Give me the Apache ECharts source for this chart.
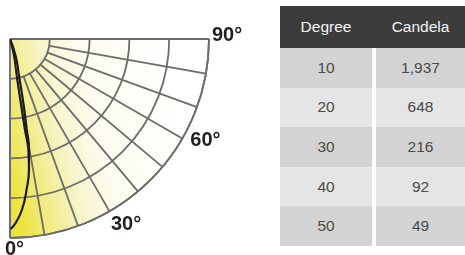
<!DOCTYPE html>
<html>
<head>
<meta charset="utf-8">
<script src="https://cdn.jsdelivr.net/npm/echarts@6/dist/echarts.min.js"></script>
<style>
  html, body { margin: 0; padding: 0; background: #fff; }
  #chart { position: absolute; left: 0; top: 0; width: 275px; height: 255px; }
  #table { position: absolute; left: 280px; top: 6px; width: 185px;
    font-family: "Liberation Sans", Arial, sans-serif; font-size: 15.5px; }
  .head { display: flex; height: 42px; background: #3c3c3c; color: #f4f4f4; }
  .row { display: flex; height: 39.6px; color: #4a4a4a; }
  .c1, .c2 { text-align: center; display: flex; align-items: center; justify-content: center; }
  .c1 { width: 92px; }
  .c2 { width: 89px; margin-left: 4px; }
  .dark .c1, .dark .c2 { background: #d3d3d3; }
  .light .c1, .light .c2 { background: #e5e5e5; }
</style>
</head>
<body>
<div id="chart"></div>
<div id="table"></div>
<script>
// table data
const degrees = [10, 20, 30, 40, 50];
const candela = [1937, 648, 216, 92, 49];

// polar grid
const radiusMax = 3500;
const ringStep = 700;
const angleTicks = [0, 30, 60, 90];

// intensity curve: [candela, degree]
const curveOuter = [
  [0, 20], [315, 18.5], [670, 13.7], [1145, 11.8], [1609, 10.5], [1963, 9.8],
  [2311, 8.3], [2654, 6.35], [2997, 4.1], [3233, 1.8], [3342, 0.2]
];
const curveInner = [
  [0, 14], [308, 13.2], [661, 10.3], [1136, 9.5], [1604, 9.3], [2000, 9.3], [2311, 8.3]
];

const gridColor = "#6c6c6c";
const gridLine = { color: gridColor, width: 1.8 };

const tbl = document.getElementById("table");
let html = '<div class="head"><div class="c1">Degree</div><div class="c2">Candela</div></div>';
degrees.forEach((d, i) => {
  html += '<div class="row ' + (i % 2 ? "light" : "dark") + '"><div class="c1">' + d +
    '</div><div class="c2">' + candela[i].toLocaleString("en-US") + "</div></div>";
});
tbl.innerHTML = html;

const chart = echarts.init(document.getElementById("chart"), null, { renderer: "canvas" });

const angleBase = { type: "value", min: 0, max: 90, startAngle: -90, endAngle: 0, clockwise: false,
  axisTick: { show: false }, axisLabel: { show: false } };

const fill = new echarts.graphic.LinearGradient(0, 1, 1, 0.75, [
  { offset: 0, color: "#ebe036" },
  { offset: 0.08, color: "#ede445" },
  { offset: 0.22, color: "#f2ec8c" },
  { offset: 0.38, color: "#f8f5cf" },
  { offset: 0.55, color: "#fdfcf0" },
  { offset: 1, color: "#ffffff" }
]);

chart.setOption({
  animation: false,
  polar: [
    { center: [10, 39], radius: [0, 199] },
    { center: [10, 39], radius: [40, 199] }
  ],
  angleAxis: [
    Object.assign({}, angleBase, { polarIndex: 0, interval: 90,
      axisLine: { show: true, lineStyle: gridLine }, splitLine: { show: true, lineStyle: gridLine } }),
    Object.assign({}, angleBase, { polarIndex: 1, interval: 10,
      axisLine: { show: false }, splitLine: { show: true, lineStyle: gridLine } })
  ],
  radiusAxis: [
    { polarIndex: 0, type: "value", min: 0, max: radiusMax, interval: ringStep,
      axisLine: { show: false }, axisTick: { show: false }, axisLabel: { show: false },
      splitLine: { show: true, lineStyle: gridLine } },
    { polarIndex: 1, type: "value", min: 0, max: radiusMax, interval: ringStep,
      axisLine: { show: false }, axisTick: { show: false }, axisLabel: { show: false },
      splitLine: { show: false } }
  ],
  series: [
    {
      type: "custom", coordinateSystem: "polar", polarIndex: 0, z: -1, silent: true,
      data: [[radiusMax, 90]],
      renderItem: function (params, api) {
        const c = api.coord([0, 0]);
        const p0 = api.coord([api.value(0), 0]);
        const p1 = api.coord([api.value(0), api.value(1)]);
        const a0 = Math.atan2(p0[1] - c[1], p0[0] - c[0]);
        const a1 = Math.atan2(p1[1] - c[1], p1[0] - c[0]);
        return {
          type: "sector",
          shape: { cx: c[0], cy: c[1], r0: 0, r: Math.hypot(p0[0] - c[0], p0[1] - c[1]),
            startAngle: Math.min(a0, a1), endAngle: Math.max(a0, a1) },
          style: { fill: fill }
        };
      }
    },
    { type: "line", coordinateSystem: "polar", polarIndex: 0, data: curveOuter, smooth: true,
      showSymbol: false, lineStyle: { color: "#1b1b1b", width: 2.2 } },
    { type: "line", coordinateSystem: "polar", polarIndex: 0, data: curveInner, smooth: true,
      showSymbol: false, lineStyle: { color: "#1b1b1b", width: 2 } }
  ]
});

// angle labels placed at the outer ring, nudged like the original
const labelNudge = { 0: [-5, 11], 30: [1.5, 13], 60: [8, 1.5], 90: [3, -4] };
chart.setOption({
  graphic: angleTicks.map((t) => {
    const p = chart.convertToPixel({ polarIndex: 0 }, [radiusMax, t]);
    return {
      type: "text",
      style: { x: p[0] + labelNudge[t][0], y: p[1] + labelNudge[t][1], text: t + "°",
        font: 'bold 20px "Liberation Sans", Arial, sans-serif', fill: "#231f20",
        align: "left", verticalAlign: "middle" }
    };
  })
});
</script>
</body>
</html>
